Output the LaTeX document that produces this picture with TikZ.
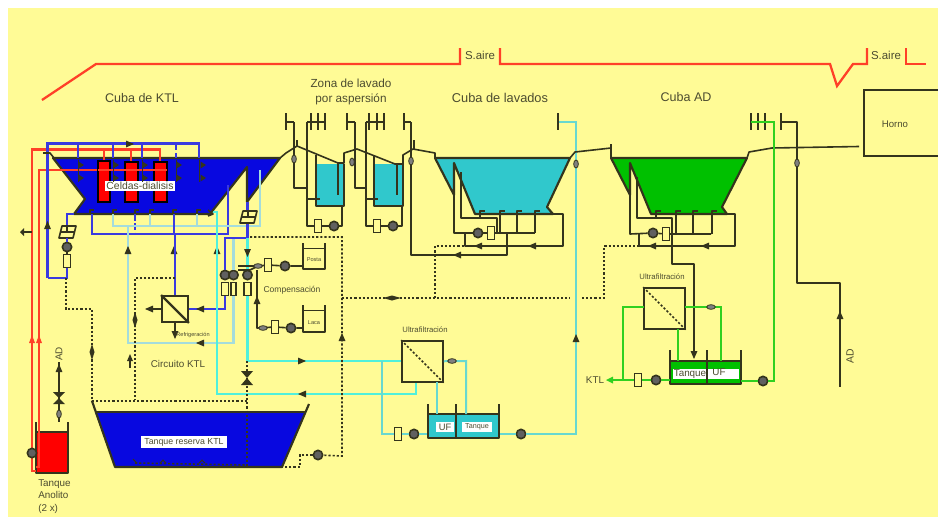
\documentclass[tikz,border=0pt]{standalone}
\usepackage{fontspec}
\setmainfont{Liberation Sans}
\usetikzlibrary{shapes.geometric}
\definecolor{bgY}{HTML}{FFFB96}
\definecolor{tk}{HTML}{34341C}
\definecolor{txt}{HTML}{4C4C30}
\definecolor{bluep}{HTML}{3A3AE0}
\definecolor{redp}{HTML}{FF4028}
\definecolor{cyn}{HTML}{50F0DC}
\definecolor{tl}{HTML}{68D8D0}
\definecolor{lb}{HTML}{A4DCDC}
\definecolor{gr}{HTML}{30D020}
\definecolor{tb}{HTML}{0808E0}
\definecolor{tt}{HTML}{30C8CC}
\definecolor{tg}{HTML}{00C000}
\newcommand{\tri}[3]{\fill[tk,shift={(#1,#2)},rotate=#3] (3pt,0)--(-3pt,-2.6pt)--(-3pt,2.6pt)--cycle;}
\newcommand{\sm}[2]{\fill[tk] (#1-0.5,#2-3.5)--(#1+5,#2)--(#1-0.5,#2+3.5)--cycle;}
\newcommand{\hk}[2]{\draw[blk] (#1,#2)--(#1,#2-4)--(#1+4,#2-4);}
\newcommand{\vv}[2]{\node[vlv] at (#1,#2) {};}
\newcommand{\hv}[2]{\node[hvl] at (#1,#2) {};}
\newcommand{\pgm}[2]{\draw[blk,fill=bgY] (#1-8,#2+6)--(#1-5,#2-6)--(#1+9,#2-6)--(#1+6,#2+6)--cycle (#1-6,#2)--(#1+7,#2) (#1,#2-6)--(#1,#2);}
\newcommand{\spr}[2]{\draw[blk] (#1,113)--(#1,130) (#1,122)--(#2,122);}
\tikzset{
 blk/.style={draw=tk,line width=1.2pt,line join=round},
 thk/.style={draw=tk,line width=1.6pt,line join=round},
 blu/.style={draw=bluep,line width=1.7pt,line join=miter},
 rdp/.style={draw=redp,line width=1.7pt},
 cy/.style={draw=cyn,line width=1.6pt},
 tlp/.style={draw=tl,line width=1.5pt},
 lbp/.style={draw=lb,line width=1.6pt},
 grp/.style={draw=gr,line width=1.5pt},
 dot/.style={draw=tk,line width=1.2pt,dash pattern=on 1.6pt off 1.5pt},
 pmp/.style={circle,draw=tk,line width=1.2pt,fill=gray!75!black,minimum size=7pt,inner sep=0pt},
 fm/.style={rectangle,draw=tk,line width=1.2pt,fill=bgY,minimum width=5pt,minimum height=10pt,inner sep=0pt},
 vlv/.style={ellipse,draw=tk,fill=gray,line width=.6pt,minimum width=3.5pt,minimum height=6pt,inner sep=0pt},
 hvl/.style={ellipse,draw=tk,fill=gray,line width=.6pt,minimum width=6.5pt,minimum height=3.5pt,inner sep=0pt},
 filt/.style={rectangle,draw=tk,line width=1.4pt,fill=bgY,inner sep=0pt},
 lab/.style={text=txt,font=\fontsize{8.6pt}{10pt}\selectfont,inner sep=0pt},
 tit/.style={text=txt,font=\fontsize{9.4pt}{10pt}\selectfont,inner sep=0pt},
 slab/.style={text=txt,font=\fontsize{6.4pt}{8pt}\selectfont,inner sep=0pt},
 tlab/.style={text=txt,font=\fontsize{4.2pt}{5pt}\selectfont,inner sep=0pt},
 wlab/.style={fill=white,text=txt,inner sep=1pt},
}
\begin{document}
\begin{tikzpicture}[x=0.75pt,y=-0.75pt]
\useasboundingbox (0,0) rectangle (938,518);
\fill[bgY] (8,8) rectangle (938,517);

% air line
\draw[rdp] (42,100)--(96,64)--(460,64)--(460,48);
\draw[rdp] (500,48)--(500,64)--(830,64)--(837,86)--(853,64)--(867,64)--(867,48);
\draw[rdp] (906,48)--(906,64)--(926,64);
\node[lab] (sa1) at (480,55) {S.aire};
\node[lab] (sa2) at (886,55) {S.aire};

% titles
\node[tit] (t1) at (142,98) {Cuba de KTL};
\node[lab,align=center,font=\fontsize{8.8pt}{11.4pt}\selectfont] (t2) at (351,92) {Zona de lavado\\por aspersión};
\node[tit,font=\fontsize{9.6pt}{10pt}\selectfont] (t3) at (500,98) {Cuba de lavados};
\node[tit] (t4) at (686,97) {Cuba AD};

% Horno
\node[rectangle,draw=tk,line width=1.4pt,minimum width=90pt,minimum height=49.5pt,inner sep=0pt,anchor=north west] (horno) at (863,89) {};
\node[slab,font=\fontsize{7.2pt}{8pt}\selectfont] (hornot) at (895,124) {Horno};

% tanks
\fill[tb] (53,158)--(85,199)--(74,214)--(210,214)--(247,167)--(247,202)--(280,158)--cycle;
\draw[thk] (53,158)--(280,158)--(247,202)--(247,167)--(210,214)--(74,214)--(85,199)--cycle;
\fill[tt] (316,164) rectangle (344,206);
\draw[thk] (316,164)--(316,206)--(344,206)--(344,164);
\fill[tt] (374,164) rectangle (403,206);
\draw[thk] (374,164)--(374,206)--(403,206)--(403,164);
\draw[thk,fill=tt] (435,158)--(570,158)--(547,207)--(553,214)--(475,214)--(454,163)--(454,195)--cycle;
\draw[thk,fill=tg] (611,158)--(747,158)--(722,207)--(727,214)--(651,214)--(630,163)--(630,195)--cycle;
\fill[tb] (95,412)--(305,412)--(282,467)--(115,467)--cycle;
\draw[thk] (92,401)--(115,467)--(282,467)--(309,404);
\draw[thk] (95,412)--(305,412);
\fill[red] (36,432) rectangle (68,473);
\draw[thk] (36,422)--(36,473)--(68,473)--(68,422);
\draw[blk] (36,432)--(68,432);

% pumps, meters
\node[pmp] (pl) at (67,247) {};
\node[fm] (fl) at (67,261) {};
\node[pmp] (pa) at (225,275) {};
\node[pmp] (pb) at (233.5,275) {};
\node[pmp] (pc) at (247.5,275) {};
\node[fm,minimum width=5.5pt] (fa) at (225,289) {};
\node[fm,minimum width=4pt] (fb) at (233.5,289) {};
\node[fm] (fc) at (247.5,289) {};
\node[fm] (fpo) at (268,265) {};
\node[pmp] (ppo) at (285,266) {};
\node[fm] (fla) at (275,327) {};
\node[pmp] (pla) at (291,328) {};
\node[fm] (fz1) at (318,226) {};
\node[pmp] (pz1) at (334,226) {};
\node[fm] (fz2) at (377,226) {};
\node[pmp] (pz2) at (393,226) {};
\node[pmp] (pw) at (478,233) {};
\node[fm] (fw) at (491,233) {};
\node[pmp] (pd) at (653,233) {};
\node[fm] (fd) at (666,234) {};
\node[fm] (fu1) at (398,434) {};
\node[pmp] (pu1) at (414,434) {};
\node[pmp] (pu2) at (521,434) {};
\node[fm] (fu2) at (638,380) {};
\node[pmp] (pu3) at (656,380) {};
\node[pmp] (pu4) at (763,381) {};
\node[pmp] (pr) at (318,455) {};

% cells and red lines
\draw[rdp] (36,471)--(32,471)--(32,149.5)--(160,149.5)--(160,162);
\draw[rdp] (104,149.5)--(104,161);
\draw[rdp] (131,149.5)--(131,162);
\draw[rdp] (36,467)--(39,467)--(39,170)--(154,170);
\node[pmp] (pan) at (32,453) {};
\fill[red,draw=black,line width=1pt] (98,161) rectangle (110,202);
\fill[red,draw=black,line width=1pt] (125,162) rectangle (138,202);
\fill[red,draw=black,line width=1pt] (154,162) rectangle (167,202);
\draw[draw=redp,line width=1.2pt] (98,170)--(167,170);
\fill[redp] (32,335)--(29,343)--(35,343)--cycle (39,335)--(36,343)--(42,343)--cycle;
\node[wlab,font=\fontsize{7.8pt}{9pt}\selectfont] (celdas) at (140,186) {Celdas-dialisis};

% blue top header
\draw[blu] (47.5,278)--(47.5,143.5)--(199,143.5)--(199,158);
\draw[blu] (78,143.5)--(78,158) (113,143.5)--(113,158) (142,143.5)--(142,158);
\draw[blu,dash pattern=on 5pt off 2pt] (176,143.5)--(176,158);
\tri{47.5}{225}{90}
\tri{130}{144}{0}
\draw[blk] (43,153)--(50,153)--(54,158);
\foreach \x in {79,114,143,177,201}{\sm{\x}{165}\sm{\x}{178}}
\draw[blk,line width=.7pt] (78,160)--(78,182) (113,160)--(113,182) (142,160)--(142,182) (176,160)--(176,182) (199,160)--(199,182);
% drain
\draw[blk] (23,232)--(32,232);
\fill[tk] (20,232)--(24,228)--(24,236)--cycle;

% bottom hooks
\foreach \x in {90,113,135,150,173,197}{\hk{\x}{214}}
\draw[blk] (208,210)--(213,214)--(208,216);

% lower KTL circuits
\draw[blu] (74,214)--(67,214)--(67,226);
\pgm{67}{232}
\draw[blu] (pl)--(67,238);
\draw[blu] (fl)--(67,278)--(47.5,278);
\draw[blk] (pl)--(fl);
\draw[blu] (92,214)--(92,234)--(228,234)--(228,185);
\draw[blu,dash pattern=on 5pt off 2pt] (135,214)--(135,234);
\draw[lbp] (113,214)--(113,226)--(260,226)--(260,170);
\draw[lbp] (150,214)--(150,226) (197,214)--(197,226);
\draw[lbp] (128,226)--(128,343)--(233.5,343)--(fb);
\draw[lbp] (pb)--(233.5,238);
\tri{128}{250}{90}
\tri{174}{250}{90}
\tri{217}{250}{90}
\tri{200}{343}{180}
% cooling filter
\node[filt,minimum size=19.5pt] (fk) at (175,309) {};
\draw[thk] (fk.north west)--(fk.south east);
\draw[blu] (174,214)--(174,234) (175,234)--(fk);
\draw[blu] (pa)--(225,238)--(247.5,238)--(247.5,202);
\draw[blu] (fa)--(225,309)--(fk);
\tri{200}{309}{180}
\draw[blk] (fk)--(151,309);
\tri{149}{309}{180}
\draw[blk] (fk)--(175,335);
\tri{175}{335}{270}
\node[tlab] (refr) at (193,335) {Refrigeración};
% parallelogram, right
\draw[cy] (213,212)--(217,212)--(217,394)--(416,394)--(416,382);
\draw[cy] (pc)--(247.5,238);
\draw[cy] (fc)--(247.5,361)--(402,361);
\tri{247.5}{253}{270}
\tri{302}{361}{0}
\tri{302}{394}{180}
\pgm{248}{217}
\draw[tlp] (382,361)--(382,434)--(fu1);
\draw[tlp] (fu1)--(pu1)--(428,434);
\draw[tlp] (499,434)--(pu2)--(576,434)--(576,122)--(558,122);
\tri{576}{338}{90}
\draw[blk] (558,113)--(558,130);

% compensation
\draw[blk] (238,266)--(258,266) (238,270)--(250,270)--(258,266);
\draw[blk] (258,266)--(fpo)--(ppo)--(303,266);
\hv{258}{266}
\draw[blk] (303,243)--(303,269)--(325,269)--(325,243);
\draw[blk,line width=.5pt] (303,248)--(325,248);
\node[tlab] (posta) at (314,260) {Posta};
\draw[blk] (303,305)--(303,332)--(325,332)--(325,305);
\draw[blk,line width=.5pt] (303,310)--(325,310);
\node[tlab] (laca) at (314,323) {Laca};
\draw[blk] (303,328)--(pla)--(fla)--(257,328)--(257,270);
\tri{257}{300}{90}
\hv{263}{328}
\node[slab] (comp) at (292,290) {Compensación};
\node[slab,font=\fontsize{7.4pt}{8pt}\selectfont] (circ) at (178,364) {Circuito KTL};

% dotted
\draw[dot] (250,237)--(342,237)--(342,456)--(pr);
\draw[dot] (pr)--(300,455)--(300,467)--(282,467);
\tri{342}{337}{90}
\draw[dot] (342,298)--(570,298);
\draw[dot] (582,298)--(604,298)--(604,246)--(640,246);
\draw[dot] (435,298)--(435,246)--(495,246);
\fill[tk] (383,298)--(392,295.5)--(401,298)--(392,300.5)--cycle;
\draw[dot] (175,278)--(135,278)--(135,400);
\fill[tk] (135,312)--(132.5,320)--(135,328)--(137.5,320)--cycle;
\draw[tk,line width=1.1pt] (130,357)--(130,368);
\fill[tk] (130,354)--(127,361)--(133,361)--cycle;
\draw[dot] (66,278)--(66,309)--(92,309)--(92,401)--(247,401);
\fill[tk] (92,344)--(89.5,352)--(92,360)--(94.5,352)--cycle;
\draw[dot] (247,361)--(247,467);
\fill[tk] (241,371)--(253,371)--(241,385)--(253,385)--cycle;
\draw[dot] (135,463)--(247,465);
\draw[tk,line width=.8pt] (133,459)--(137,463) (160,463)--(163,460)--(166,463) (199,463)--(202,460)--(205,463);

% reserve label
\node[wlab,font=\fontsize{6.6pt}{8pt}\selectfont,minimum width=64pt,minimum height=9pt] (res) at (184,442) {Tanque reserva KTL};

% anolyte
\draw[blk] (59,362)--(59,422);
\tri{59}{368}{90}
\fill[tk] (53,392)--(65,392)--(53,404)--(65,404)--cycle;
\vv{59}{414}
\node[lab,rotate=90,font=\fontsize{7.4pt}{8pt}\selectfont] (ad1) at (59,354) {AD};
\node[lab,align=left,anchor=north west,font=\fontsize{7.4pt}{9.4pt}\selectfont] (anol) at (38,479) {Tanque\\Anolito\\(2 x)};

% spray zone pipes
\draw[blk] (280,158)--(286,153)--(297,146)--(338,163)--(344,163)--(344,153)--(357,149)--(395,164)--(403,164)--(403,155)--(413,149)--(435,153)--(435,158);
\spr{286}{294}
\draw[blk] (294,122)--(294,188)--(307,188);
\draw[blk] (297,140)--(297,147);
\foreach \x in {311,318,325}{\draw[blk] (\x,113)--(\x,130);}
\draw[blk] (307,122)--(325,122) (307,122)--(307,226)--(fz1)--(pz1)--(342,226)--(342,206);
\draw[blk] (316,155)--(316,165) (307,199)--(320,199) (338,163)--(338,195);
\spr{347}{355}
\draw[blk] (355,122)--(355,188)--(366,188);
\draw[blk] (355,140)--(355,149);
\foreach \x in {369,377,384}{\draw[blk] (\x,113)--(\x,130);}
\draw[blk] (366,122)--(384,122) (366,122)--(366,226)--(fz2)--(pz2)--(402,226)--(402,206);
\draw[blk] (374,155)--(374,165) (366,199)--(378,199) (397,163)--(397,195);
\spr{404}{411}
\draw[blk] (414,140)--(414,149);
\draw[blk] (411,122)--(411,255)--(507,255)--(507,233);
\tri{457}{255}{180}
\vv{294}{159}
\vv{352}{162}
\vv{411}{161}

% wash tank pipes
\draw[blk] (454,163)--(454,233)--(pw)--(fw)--(535,233);
\draw[blk] (461,172)--(461,218)--(497,218)--(497,233);
\foreach \x in {480,500,517,535}{\draw[blk] (\x,218)--(\x,211)--(\x+5,211);}
\draw[blk] (500,214)--(500,233) (517,214)--(517,233) (535,214)--(535,233);
\draw[blk] (553,214)--(563,214)--(563,246)--(465,246)--(465,233);
\tri{532}{246}{180}
\tri{478}{246}{180}
\draw[blk] (570,158)--(575,152)--(611,148);
\draw[blk] (611,144)--(611,158);
\vv{576}{164}

% AD tank pipes
\draw[blk] (630,163)--(630,234)--(pd)--(fd)--(711,234);
\draw[blk] (637,177)--(637,218)--(672,218)--(672,264)--(694,264)--(694,352);
\tri{694}{355}{270}
\foreach \x in {656,676,693,712}{\draw[blk] (\x,218)--(\x,211)--(\x+5,211);}
\draw[blk] (676,214)--(676,234) (693,214)--(693,234) (712,214)--(712,234);
\draw[blk] (727,214)--(735,214)--(735,246)--(639,246)--(639,234);
\tri{705}{246}{180}
\tri{652}{246}{180}
\draw[blk] (747,158)--(749,152)--(772,148)--(859,146.5);
\foreach \x in {751,758,765}{\draw[blk] (\x,113)--(\x,130);}
\draw[grp] (751,122)--(774,122)--(774,381)--(pu4);
\draw[blk] (781,113)--(781,130) (781,122)--(797,122)--(797,283)--(840,283)--(840,387);
\vv{797}{163}
\tri{840}{315}{90}
\node[lab,rotate=90,font=\fontsize{7.8pt}{8pt}\selectfont] (ad2) at (850,356) {AD};

% UF 1
\node[filt,minimum size=30.5pt] (uf1) at (422.5,361.5) {};
\draw[dot] (uf1.north west)--(uf1.south east);
\node[slab,font=\fontsize{5.8pt}{7pt}\selectfont] (uft1) at (425,330) {Ultrafiltración};
\fill[tt] (428,414) rectangle (499,438);
\draw[thk] (428,404)--(428,438)--(499,438)--(499,404) (456,404)--(456,438) (428,414)--(499,414);
\node[wlab,minimum width=14pt,minimum height=8pt,font=\fontsize{7pt}{8pt}\selectfont] (ufa) at (445,427) {UF};
\node[wlab,minimum width=22pt,minimum height=8pt,font=\fontsize{5.4pt}{6pt}\selectfont] (tqa) at (477,427) {Tanque};
\draw[tlp] (437,382)--(437,414);
\draw[tlp] (uf1)--(466,361)--(466,414);
\hv{452}{361}

% UF 2
\node[filt,minimum size=30.5pt] (uf2) at (664.5,308.5) {};
\draw[dot] (uf2.north west)--(uf2.south east);
\node[slab,font=\fontsize{5.8pt}{7pt}\selectfont] (uft2) at (662,277) {Ultrafiltración};
\fill[tg] (670,361) rectangle (741,384);
\fill[white] (673,369) rectangle (739,379);
\draw[thk] (670,350)--(670,384)--(741,384)--(741,350) (707,350)--(707,384) (670,361)--(741,361);
\node[inner sep=0pt,text=txt,font=\fontsize{7.4pt}{8pt}\selectfont] (tqb) at (690,374) {Tanque};
\node[inner sep=0pt,text=txt,font=\fontsize{7.4pt}{8pt}\selectfont] (ufb) at (719,372) {UF};
\draw[grp] (678,329)--(678,361);
\draw[grp] (685,307)--(721,307)--(721,361);
\draw[grp] (644,307)--(623,307)--(623,380);
\draw[grp] (670,380)--(pu3) (pu3)--(fu2);
\draw[grp] (fu2)--(612,380);
\fill[gr] (606,380)--(613,376.5)--(613,383.5)--cycle;
\node[slab,font=\fontsize{7.4pt}{8pt}\selectfont] (ktl) at (595,380) {KTL};
\draw[grp] (741,381)--(pu4);
\hv{711}{307}
\end{tikzpicture}
\end{document}
